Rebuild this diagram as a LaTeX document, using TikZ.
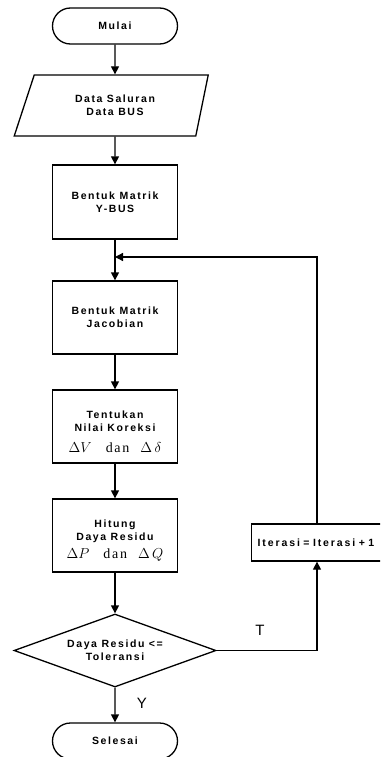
\documentclass[tikz,border=0pt]{standalone}
\usepackage{fontspec}
\newfontfamily\boxfont[LetterSpace=15]{Liberation Sans}
\newfontfamily\labelfont{Liberation Sans}
\newfontfamily\wordfont[LetterSpace=12]{Liberation Serif}
\usetikzlibrary{arrows.meta,shapes.geometric,shapes.misc}
\newcommand{\deltaline}[2]{{\fontsize{14}{16}\selectfont
  $\Delta #1$\hspace{14pt}{\wordfont\mdseries dan}\hspace{11pt}$\Delta\,#2$}}
\tikzset{
  terminal/.style={
    rounded rectangle,
    draw,
    line width=1.3pt,
    minimum width=125pt,
    minimum height=36pt,
    inner sep=0pt,
    font=\boxfont\bfseries\fontsize{10.5}{13}\selectfont
  },
  process/.style={
    rectangle,
    draw,
    line width=1.3pt,
    minimum width=125pt,
    minimum height=73pt,
    inner sep=0pt,
    align=center,
    font=\boxfont\bfseries\fontsize{10.5}{13}\selectfont
  },
  io/.style={
    trapezium,
    trapezium left angle=46,
    trapezium right angle=121,
    trapezium stretches body,
    draw,
    line width=1.3pt,
    minimum width=194pt,
    minimum height=61pt,
    inner sep=0pt,
    align=center,
    font=\boxfont\bfseries\fontsize{10.5}{13}\selectfont
  },
  decision/.style={
    diamond,
    aspect=2.77,
    draw,
    line width=1.3pt,
    minimum width=202pt,
    minimum height=73pt,
    inner sep=0pt,
    align=center,
    font=\boxfont\bfseries\fontsize{10.5}{13}\selectfont
  },
  link/.style={-{Triangle[length=8pt,width=8pt]},line width=1.3pt},
  answer/.style={font=\labelfont\fontsize{15}{15}\selectfont}
}

\begin{document}
\begin{tikzpicture}[x=1pt,y=-1pt]
  \useasboundingbox (0,0) rectangle (380,757);
  \clip (0,0) rectangle (380,757);

  % Main column.
  \node[terminal] (start) at (115,26) {Mulai};
  \node[io] (data) at (115,105.5) {Data Saluran\\Data BUS};
  \node[process,minimum height=74pt] (ybus) at (115,202)
    {Bentuk Matrik\\Y-BUS};
  \node[process] (jacob) at (115,317.5) {Bentuk Matrik\\Jacobian};
  \node[process] (koreksi) at (115,426.5)
    {\rule{0pt}{18pt}Tentukan\\Nilai Koreksi\\[8pt]\deltaline{V}{\delta}};
  \node[process] (residu) at (115,535.5)
    {\rule{0pt}{18pt}Hitung\\Daya Residu\\[5pt]\deltaline{P}{Q}};
  \node[decision] (cek) at (115,650.5) {Daya Residu <=\\Toleransi};
  \node[terminal] (stop) at (115,741) {Selesai};

  % Loop back (box runs past the right edge).
  \node[process,anchor=west,minimum width=200pt,minimum height=37pt,
    text width=188pt,align=left] (iterasi) at (251,542.5)
    {\addfontfeature{LetterSpace=18}Iterasi = Iterasi + 1};
  \coordinate (loopx) at (317,0);
  \coordinate (join) at (115,257);

  \draw[link] (start) -- (data);
  \draw[link] (data) -- (ybus);
  \draw[link] (ybus) -- (jacob);
  \draw[link] (jacob) -- (koreksi);
  \draw[link] (koreksi) -- (residu);
  \draw[link] (residu) -- (cek);
  \draw[link] (cek) -- (stop);
  \draw[link] (cek.east) -| (iterasi.south -| loopx);
  \draw[link] (iterasi.north -| loopx) |- (join);

  \node[answer] (tlabel) at (260,630) {T};
  \node[answer] (ylabel) at (142,703) {Y};
\end{tikzpicture}
\end{document}
